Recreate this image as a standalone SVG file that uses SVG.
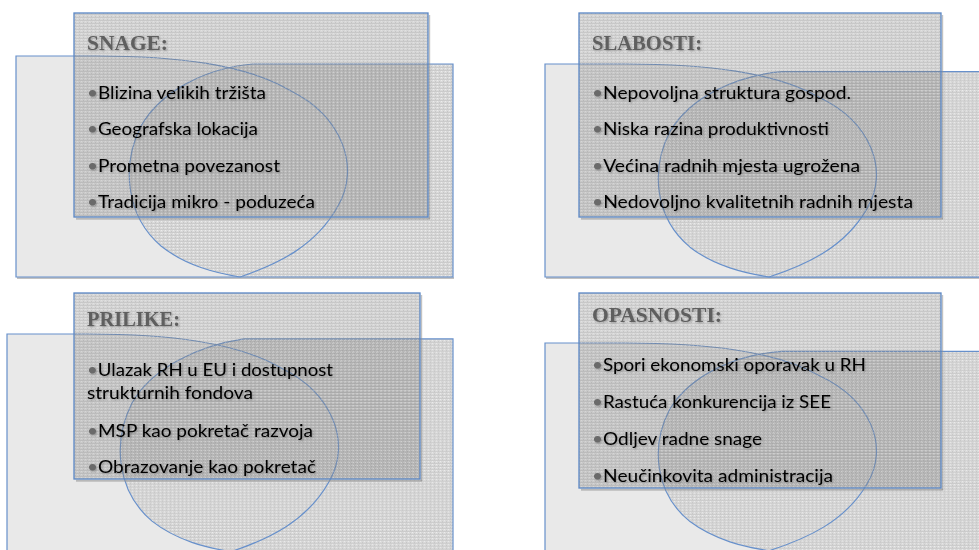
<svg xmlns="http://www.w3.org/2000/svg" width="979" height="550" viewBox="0 0 979 550">
<defs>
<pattern id="tex" width="4" height="3" patternUnits="userSpaceOnUse">
<rect width="4" height="3" fill="#dadada"/>
<rect y="2" width="4" height="1" fill="#cbcbcb"/>
<rect x="1" y="0" width="1" height="1" fill="#ececec"/>
<rect x="3" y="1" width="1" height="1" fill="#c6c6c6"/>
</pattern>
<pattern id="tex2" width="4" height="3" patternUnits="userSpaceOnUse">
<rect width="4" height="3" fill="#8a8a8a" fill-opacity="0.34"/>
<rect y="2" width="4" height="1" fill="#707070" fill-opacity="0.14"/>
<rect x="1" y="0" width="1" height="1" fill="#ffffff" fill-opacity="0.25"/>
<rect x="3" y="1" width="1" height="1" fill="#555555" fill-opacity="0.15"/>
</pattern>
<filter id="ts" x="-5%" y="-30%" width="110%" height="160%">
<feGaussianBlur in="SourceAlpha" stdDeviation="0.8"/>
<feOffset dx="1" dy="1.2" result="b"/>
<feFlood flood-color="#000" flood-opacity="0.3"/>
<feComposite in2="b" operator="in"/>
<feMerge><feMergeNode/><feMergeNode in="SourceGraphic"/></feMerge>
</filter>
<path id="leftShape" d="M0,0 L80,0 C160,0 230,8 275,35 C325,60 345,110 322,150 C300,190 262,208 224,221 L0,221 Z"/>
</defs>
<style>
.lf{fill:#e9e9e9}
.rf{fill:url(#tex)}
.ln{fill:none;stroke:#6790cb;stroke-width:1.2}
.fr{fill:url(#tex2);stroke:#5b87c5;stroke-width:1.3}
.sh{fill:#8f8f8f;opacity:0.55}
.t{font-family:"Liberation Serif",serif;font-weight:bold;font-size:20px;fill:#5e5e5e}
.b{font-family:Lato,"Liberation Sans",sans-serif;font-size:17.5px;fill:#000}
.d{fill:#6a6a6a}
</style>
<rect width="979" height="550" fill="#ffffff"/>
<g id="connectors"/>

<g id="snage">
<rect class="sh" x="17" y="277" width="437" height="2"/>
<g transform="translate(16,56)">
<use href="#leftShape" class="lf"/>
<path class="rf" d="M237,8 L437,8 L437,221 L224,221 C200,217 170,210 145,190 C110,160 105,110 125,70 C145,35 190,12 237,8 Z"/>
<use href="#leftShape" class="ln"/>
<path class="ln" d="M237,8 L437,8 L437,221 L224,221 C200,217 170,210 145,190 C110,160 105,110 125,70 C145,35 190,12 237,8 Z"/>
</g>
<rect class="sh" x="76" y="217.7" width="354" height="2"/>
<rect class="sh" x="428.7" y="15" width="1.5" height="204"/>
<rect class="fr" x="74" y="13" width="354" height="204"/>
<g filter="url(#ts)">
<text class="t" x="87" y="50" textLength="81" lengthAdjust="spacingAndGlyphs">SNAGE:</text>
<text class="b" x="87" y="98.5" textLength="179" lengthAdjust="spacingAndGlyphs"><tspan class="d">•</tspan>Blizina velikih tržišta</text>
<text class="b" x="87" y="135" textLength="171" lengthAdjust="spacingAndGlyphs"><tspan class="d">•</tspan>Geografska lokacija</text>
<text class="b" x="87" y="171.5" textLength="193" lengthAdjust="spacingAndGlyphs"><tspan class="d">•</tspan>Prometna povezanost</text>
<text class="b" x="87" y="208" textLength="228" lengthAdjust="spacingAndGlyphs"><tspan class="d">•</tspan>Tradicija mikro - poduzeća</text>
</g>
</g>

<g id="slabosti">
<rect class="sh" x="546" y="277" width="440" height="2"/>
<g transform="translate(545,64) scale(1,0.964)">
<use href="#leftShape" class="lf"/>
<path class="rf" d="M237,8 L437,8 L437,221 L224,221 C200,217 170,210 145,190 C110,160 105,110 125,70 C145,35 190,12 237,8 Z"/>
<use href="#leftShape" class="ln" vector-effect="non-scaling-stroke"/>
<path class="ln" vector-effect="non-scaling-stroke" d="M237,8 L437,8 L437,221 L224,221 C200,217 170,210 145,190 C110,160 105,110 125,70 C145,35 190,12 237,8 Z"/>
</g>
<rect class="sh" x="581" y="217.7" width="362" height="2"/>
<rect class="sh" x="941.7" y="15" width="1.5" height="204"/>
<rect class="fr" x="579" y="13" width="362" height="204"/>
<g filter="url(#ts)">
<text class="t" x="592" y="50" textLength="110" lengthAdjust="spacingAndGlyphs">SLABOSTI:</text>
<text class="b" x="592" y="98.5" textLength="259" lengthAdjust="spacingAndGlyphs"><tspan class="d">•</tspan>Nepovoljna struktura gospod.</text>
<text class="b" x="592" y="135" textLength="237" lengthAdjust="spacingAndGlyphs"><tspan class="d">•</tspan>Niska razina produktivnosti</text>
<text class="b" x="592" y="171.5" textLength="268" lengthAdjust="spacingAndGlyphs"><tspan class="d">•</tspan>Većina radnih mjesta ugrožena</text>
<text class="b" x="592" y="208" textLength="321" lengthAdjust="spacingAndGlyphs"><tspan class="d">•</tspan>Nedovoljno kvalitetnih radnih mjesta</text>
</g>
</g>

<g id="prilike">
<g transform="translate(7,334) scale(1,0.985)">
<use href="#leftShape" class="lf"/>
<path class="rf" d="M237,5 L446,5 L446,221 L224,221 C200,217 170,210 145,190 C110,160 105,110 125,70 C145,35 190,12 237,5 Z"/>
<use href="#leftShape" class="ln" vector-effect="non-scaling-stroke"/>
<path class="ln" vector-effect="non-scaling-stroke" d="M237,5 L446,5 L446,221 L224,221 C200,217 170,210 145,190 C110,160 105,110 125,70 C145,35 190,12 237,5 Z"/>
</g>
<rect class="sh" x="76" y="479.7" width="346" height="2"/>
<rect class="sh" x="420.7" y="295" width="1.5" height="186"/>
<rect class="fr" x="74" y="293" width="346" height="186"/>
<g filter="url(#ts)">
<text class="t" x="87" y="325.5" textLength="93" lengthAdjust="spacingAndGlyphs">PRILIKE:</text>
<text class="b" x="87" y="375.5" textLength="246" lengthAdjust="spacingAndGlyphs"><tspan class="d">•</tspan>Ulazak RH u EU i dostupnost</text>
<text class="b" x="87" y="398.5" textLength="166" lengthAdjust="spacingAndGlyphs">strukturnih fondova</text>
<text class="b" x="87" y="436.7" textLength="226" lengthAdjust="spacingAndGlyphs"><tspan class="d">•</tspan>MSP kao pokretač razvoja</text>
<text class="b" x="87" y="472.7" textLength="229" lengthAdjust="spacingAndGlyphs"><tspan class="d">•</tspan>Obrazovanje kao pokretač</text>
</g>
</g>

<g id="opasnosti">
<g transform="translate(545,343) scale(1,0.94)">
<use href="#leftShape" class="lf"/>
<path class="rf" d="M237,9 L437,9 L437,221 L224,221 C200,217 170,210 145,190 C110,160 105,110 125,70 C145,35 190,12 237,9 Z"/>
<use href="#leftShape" class="ln" vector-effect="non-scaling-stroke"/>
<path class="ln" vector-effect="non-scaling-stroke" d="M237,9 L437,9 L437,221 L224,221 C200,217 170,210 145,190 C110,160 105,110 125,70 C145,35 190,12 237,9 Z"/>
</g>
<rect class="sh" x="581" y="488.7" width="362" height="2"/>
<rect class="sh" x="941.7" y="295" width="1.5" height="195"/>
<rect class="fr" x="579" y="293" width="362" height="195"/>
<g filter="url(#ts)">
<text class="t" x="592" y="322" textLength="130" lengthAdjust="spacingAndGlyphs">OPASNOSTI:</text>
<text class="b" x="592" y="370.7" textLength="274" lengthAdjust="spacingAndGlyphs"><tspan class="d">•</tspan>Spori ekonomski oporavak u RH</text>
<text class="b" x="592" y="407.7" textLength="239" lengthAdjust="spacingAndGlyphs"><tspan class="d">•</tspan>Rastuća konkurencija iz SEE</text>
<text class="b" x="592" y="445" textLength="170" lengthAdjust="spacingAndGlyphs"><tspan class="d">•</tspan>Odljev radne snage</text>
<text class="b" x="592" y="481.7" textLength="241" lengthAdjust="spacingAndGlyphs"><tspan class="d">•</tspan>Neučinkovita administracija</text>
</g>
</g>
</svg>
